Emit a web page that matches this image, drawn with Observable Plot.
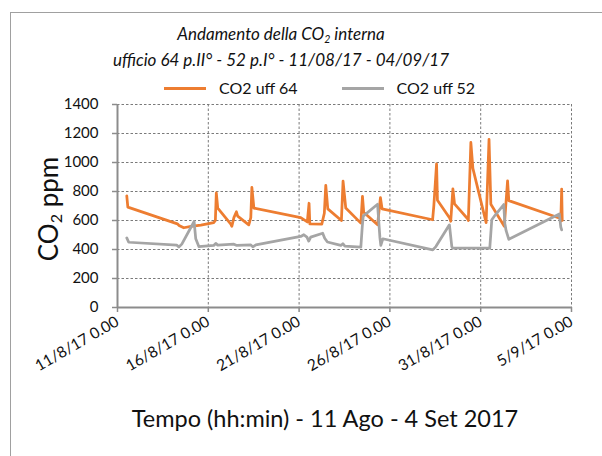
<!DOCTYPE html>
<html>
<head>
<meta charset="utf-8">
<script src="https://cdn.jsdelivr.net/npm/d3@7"></script>
<script src="https://cdn.jsdelivr.net/npm/@observablehq/plot@0.6"></script>
<style>
  body { margin: 0; background: #fff; }
  #wrap { position: relative; width: 602px; height: 456px; overflow: hidden; background: #fff; font-family: Lato, "Open Sans", sans-serif; color: #111; }
  #frame { position: absolute; left: 10px; top: 12px; width: 640px; height: 500px; border: 1.5px solid #a0a0a0; }
  #title { position: absolute; left: 0; width: 562px; top: 21px; text-align: center; font-style: italic; font-size: 17px; line-height: 26px; }
  #legend { position: absolute; top: 78px; left: 164px; display: flex; align-items: center; font-size: 16px; line-height: 20px; }
  .item { display: flex; align-items: center; margin-right: 44px; }
  .sw { width: 42px; height: 3px; margin-right: 13px; }
  #plot { position: absolute; left: 0; top: 96px; }
  #ytitle { position: absolute; left: 48px; top: 209px; transform: translate(-50%, -50%) rotate(-90deg); white-space: nowrap; font-size: 26px; }
  #xtitle { position: absolute; left: 325px; top: 418px; transform: translate(-50%, -50%); white-space: nowrap; font-size: 23.5px; }
  sub { font-size: 62%; vertical-align: -0.25em; line-height: 0; }
</style>
</head>
<body>
<div id="wrap">
  <div id="frame"></div>
  <div id="title">Andamento della CO<sub>2</sub> interna<br>ufficio 64 p.II° - 52 p.I° - 11/08/17 - 04/09/17</div>
  <div id="legend"></div>
  <div id="plot"></div>
  <div id="ytitle">CO<sub>2</sub> ppm</div>
  <div id="xtitle">Tempo (hh:min) - 11 Ago - 4 Set 2017</div>
</div>
<script>
// ---- data ----
const seriesNames = ["CO2 uff 64", "CO2 uff 52"];
const seriesColors = ["#ED7D31", "#A5A5A5"];

const uff64Time = [
  "11/08/17 12:15","11/08/17 13:40","14/08/17 07:10","14/08/17 09:20","14/08/17 15:35","15/08/17 01:00","15/08/17 14:10",
  "16/08/17 07:10","16/08/17 09:20","16/08/17 10:35","16/08/17 12:30","17/08/17 05:45","17/08/17 07:10","17/08/17 09:50",
  "17/08/17 13:10","17/08/17 14:50","18/08/17 05:30","18/08/17 08:10","18/08/17 09:35","18/08/17 12:15","21/08/17 02:10",
  "21/08/17 10:50","21/08/17 13:10","21/08/17 14:10","22/08/17 06:00","22/08/17 09:20","22/08/17 11:15","22/08/17 13:55",
  "23/08/17 07:55","23/08/17 10:05","23/08/17 13:40","24/08/17 09:35","24/08/17 11:45","24/08/17 13:25","25/08/17 07:40",
  "25/08/17 11:30","25/08/17 13:40","28/08/17 08:25","28/08/17 10:05","28/08/17 13:40","28/08/17 14:50","29/08/17 07:10",
  "29/08/17 08:25","29/08/17 11:15","29/08/17 13:25","30/08/17 06:40","30/08/17 07:40","30/08/17 11:00","30/08/17 13:40",
  "31/08/17 07:10","31/08/17 11:00","31/08/17 13:25","01/09/17 07:10","01/09/17 11:30","01/09/17 13:10","04/09/17 08:40",
  "04/09/17 09:50","04/09/17 11:00","04/09/17 11:45"
];
const uff64Value = [
  770,692,577,566,550,559,568,
  585,600,790,685,575,560,620,
  660,630,570,620,829,685,620,
  590,719,577,575,650,843,680,
  600,872,686,582,766,657,570,
  758,680,605,703,990,740,615,
  595,818,715,612,600,1138,960,
  585,1160,712,560,873,737,615,
  595,817,600
];

const uff52Time = [
  "11/08/17 12:15","11/08/17 14:50","14/08/17 06:30","14/08/17 09:05","14/08/17 13:00","15/08/17 05:15","15/08/17 07:25",
  "15/08/17 11:30","16/08/17 07:10","16/08/17 09:50","16/08/17 12:30","17/08/17 09:50","17/08/17 13:40","18/08/17 08:10",
  "18/08/17 10:50","18/08/17 14:50","21/08/17 02:10","21/08/17 06:15","21/08/17 10:20","21/08/17 12:45","21/08/17 15:20",
  "22/08/17 07:10","22/08/17 09:50","22/08/17 13:25","23/08/17 07:10","23/08/17 09:50","23/08/17 12:30","24/08/17 09:35",
  "24/08/17 11:30","24/08/17 12:45","25/08/17 07:40","25/08/17 10:50","25/08/17 12:00","25/08/17 14:40","28/08/17 08:40",
  "28/08/17 12:45","29/08/17 06:40","29/08/17 09:50","29/08/17 10:50","31/08/17 12:00","31/08/17 14:40","31/08/17 18:40",
  "01/09/17 06:30","01/09/17 07:55","01/09/17 09:35","01/09/17 13:10","04/09/17 07:55","04/09/17 09:50","04/09/17 11:00"
];
const uff52Value = [
  480,450,430,417,437,593,474,
  420,428,442,430,437,428,432,
  418,432,490,502,485,458,485,
  512,478,452,428,440,423,417,
  560,630,712,480,428,474,397,
  420,570,420,410,410,605,634,
  710,580,530,470,645,555,535
];

const xTickDates = ["11/08/17","16/08/17","21/08/17","26/08/17","31/08/17","05/09/17"];
const yTicks = [0, 200, 400, 600, 800, 1000, 1200, 1400];

// ---- build ----
const parseT = d3.timeParse("%d/%m/%y %H:%M");
const parseD = d3.timeParse("%d/%m/%y");
const xTicks = xTickDates.map(parseD);
const rows = [
  ...uff64Time.map((t, i) => ({time: parseT(t), value: uff64Value[i], series: seriesNames[0]})),
  ...uff52Time.map((t, i) => ({time: parseT(t), value: uff52Value[i], series: seriesNames[1]}))
];

const legend = document.getElementById("legend");
seriesNames.forEach((n, i) => {
  const it = document.createElement("div");
  it.className = "item";
  it.innerHTML = `<span class="sw" style="background:${seriesColors[i]}"></span><span>${n}</span>`;
  legend.appendChild(it);
});

const gridStyle = {stroke: "#7a7a7a", strokeOpacity: 1, strokeWidth: 1, strokeDasharray: "2.5,2"};
const fmt = d3.timeFormat("%-d/%-m/%y 0.00");

const chart = Plot.plot({
  width: 602,
  height: 294,
  marginLeft: 117,
  marginRight: 31,
  marginTop: 8,
  marginBottom: 83,
  style: {fontFamily: "Lato, 'Open Sans', sans-serif", fontSize: "15px", color: "#111", background: "transparent", overflow: "visible"},
  x: {type: "time", domain: [xTicks[0], xTicks[xTicks.length - 1]]},
  y: {domain: [0, 1400]},
  color: {domain: seriesNames, range: seriesColors},
  marks: [
    Plot.gridY(yTicks.slice(1), gridStyle),
    Plot.gridX(xTicks.slice(1), gridStyle),
    Plot.axisY(yTicks, {tickSize: 5, tickPadding: 14, fontSize: 15, tickFormat: d => String(d), label: null, stroke: "#8c8c8c", strokeWidth: 1.5}),
    Plot.axisX(xTicks, {tickSize: 5, tickPadding: 8, tickRotate: -30, tickFormat: fmt, fontSize: 15.5, label: null, stroke: "#8c8c8c", strokeWidth: 1.5}),
    Plot.ruleX([xTicks[0]], {stroke: "#8c8c8c", strokeWidth: 2}),
    Plot.ruleY([0], {stroke: "#8c8c8c", strokeWidth: 2}),
    Plot.line(rows.filter(d => d.series === seriesNames[0]), {x: "time", y: "value", stroke: "series", strokeWidth: 2.75, curve: "linear"}),
    Plot.line(rows.filter(d => d.series === seriesNames[1]), {x: "time", y: "value", stroke: "series", strokeWidth: 2.75, curve: "linear"})
  ]
});
document.getElementById("plot").appendChild(chart);
</script>
</body>
</html>
